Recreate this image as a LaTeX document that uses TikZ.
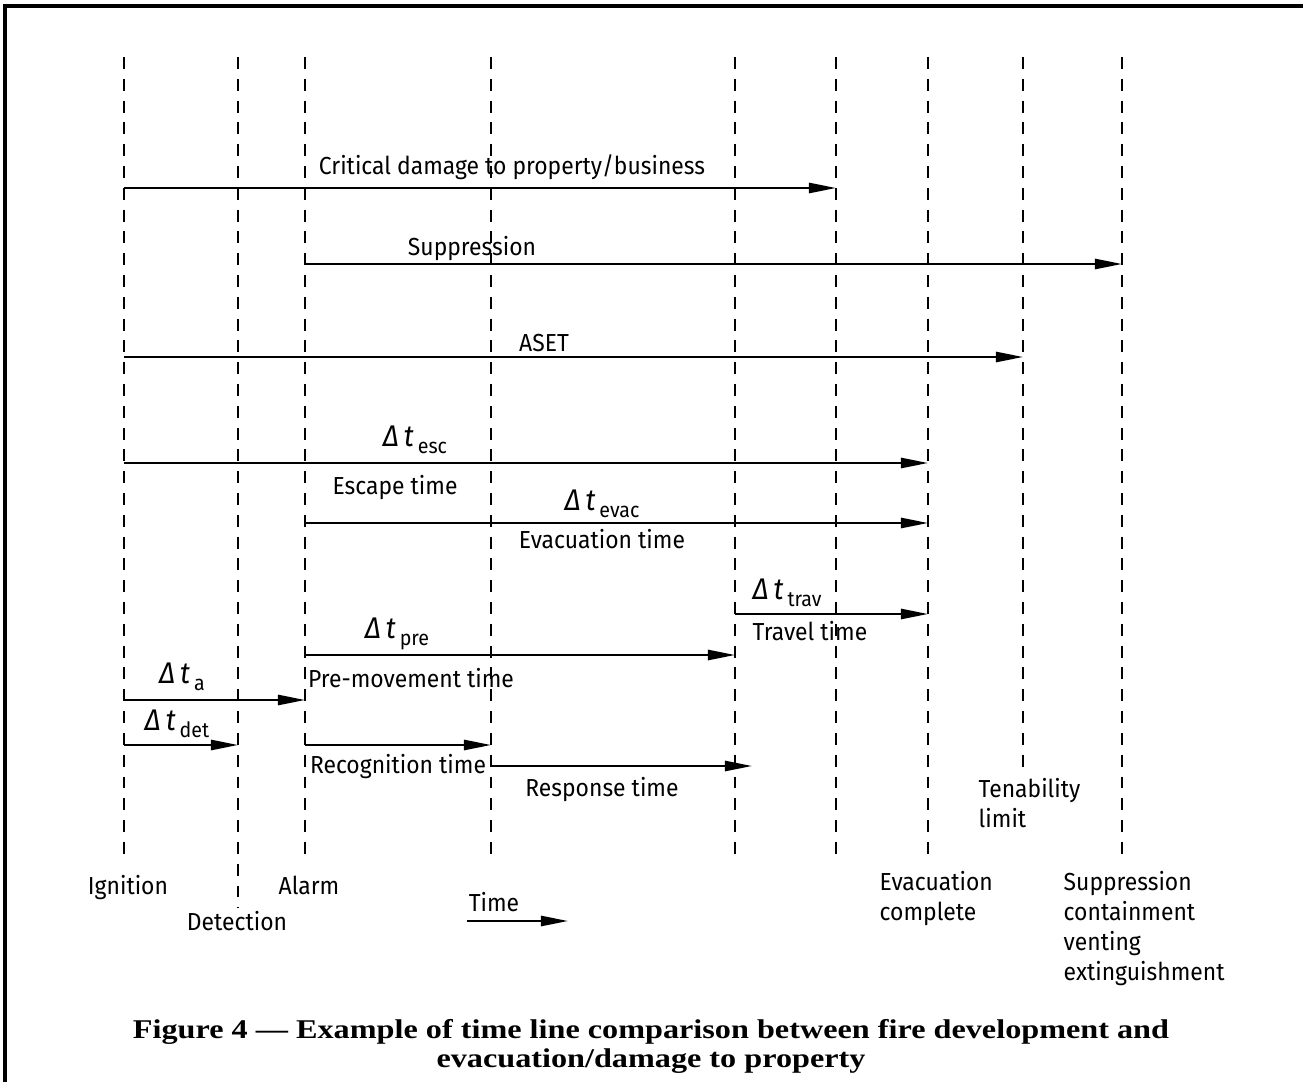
\documentclass[tikz,border=0pt]{standalone}
\usepackage{fontspec}
\newfontfamily\isofont{Fira Sans}[FakeStretch=0.93]
\newfontfamily\capfont{Liberation Serif}[FakeStretch=1.19]
\usetikzlibrary{arrows.meta}
\newcommand{\dtime}[1]{{\fontsize{8.5}{9}\selectfont\itshape Δ\,t}\,\raisebox{-0.55ex}{\fontsize{6}{6}\selectfont #1}}
\begin{document}
\begin{tikzpicture}[x=0.01cm, y=-0.01cm,
  vline/.style={line width=0.5pt, dash pattern=on 3.4pt off 2.8pt},
  arr/.style={line width=0.6pt, -{Triangle[length=7.7pt,width=2.9pt]}},
  lbl/.style={font=\isofont\fontsize{7}{8.5}\selectfont, inner sep=0pt, anchor=base},
  tag/.style={font=\isofont\fontsize{7}{8.5}\selectfont, inner sep=0pt, anchor=base west, align=left}]
\useasboundingbox (0,0) rectangle (1303,1082);
\draw[line width=0.9pt] (5,1082) -- (5,6) -- (1303,6);
% event lines
\coordinate (ign) at (124,57);
\coordinate (det) at (238,57);
\coordinate (alarm) at (305,57);
\coordinate (recog) at (491,57);
\coordinate (premv) at (735,57);
\coordinate (dmg) at (836,57);
\coordinate (evac) at (928,57);
\coordinate (tenab) at (1023,57);
\coordinate (supp) at (1122,57);
\draw[vline] (ign) -- ++(0,806);
\draw[vline] (det) -- ++(0,851);
\draw[vline] (alarm) -- ++(0,806);
\draw[vline] (recog) -- ++(0,806);
\draw[vline] (premv) -- ++(0,806);
\draw[vline] (dmg) -- ++(0,806);
\draw[vline] (evac) -- ++(0,806);
\draw[vline] (tenab) -- ++(0,710);
\draw[vline] (supp) -- ++(0,806);
% time spans
\draw[arr] (ign |- 0,188) -- (dmg |- 0,188);
\node[lbl] (dmgtxt) at (512,175) {Critical damage to property/business};
\draw[arr] (alarm |- 0,264) -- (supp |- 0,264);
\node[lbl] (supptxt) at (472,255) {Suppression};
\draw[arr] (ign |- 0,357) -- (tenab |- 0,357);
\node[lbl] (aset) at (544,351) {ASET};
\draw[arr] (ign |- 0,463) -- (evac |- 0,463);
\node[lbl] (esc) at (415,446) {\dtime{esc}};
\node[lbl] (esctxt) at (395,494) {Escape time};
\draw[arr] (alarm |- 0,523) -- (evac |- 0,523);
\node[lbl] (evc) at (602,510) {\dtime{evac}};
\node[lbl] (evctxt) at (602,548) {Evacuation time};
\draw[arr] (premv |- 0,614) -- (evac |- 0,614);
\node[lbl] (trav) at (787,599) {\dtime{trav}};
\node[lbl] (travtxt) at (810,640) {Travel time};
\draw[arr] (alarm |- 0,655) -- (premv |- 0,655);
\node[lbl] (pre) at (397,638) {\dtime{pre}};
\node[lbl] (pretxt) at (411,687) {Pre-movement time};
\draw[arr] (ign |- 0,700) -- (alarm |- 0,700);
\node[lbl] (alm) at (182,683) {\dtime{a}};
\draw[arr] (ign |- 0,745) -- (det |- 0,745);
\node[lbl] (dtc) at (177,730) {\dtime{det}};
\draw[arr] (alarm |- 0,745) -- (recog |- 0,745);
\node[lbl] (recogtxt) at (398,773) {Recognition time};
\coordinate (respend) at (752,766);
\draw[arr] (recog |- 0,766) -- (respend);
\node[lbl] (resptxt) at (602,796) {Response time};
% events
\node[lbl] (igntxt) at (128,894) {Ignition};
\node[lbl] (dettxt) at (237,930) {Detection};
\node[lbl] (alarmtxt) at (309,894) {Alarm};
\node[tag] (evactxt) at (879,920) {Evacuation\\complete};
\node[tag] (tenabtxt) at (978,827) {Tenability\\limit};
\node[tag] (supptag) at (1063,980) {Suppression\\containment\\venting\\extinguishment};
\coordinate (t0) at (467,921);
\coordinate (t1) at (568,921);
\draw[arr] (t0) -- (t1);
\node[lbl] (timetxt) at (494,911) {Time};
% caption
\node[font=\capfont\bfseries\fontsize{7.7}{8.2}\selectfont, align=center, inner sep=0pt, anchor=base] (cap) at (651,1067)
  {Figure 4 — Example of time line comparison between fire development and\\evacuation/damage to property};
\end{tikzpicture}
\end{document}
